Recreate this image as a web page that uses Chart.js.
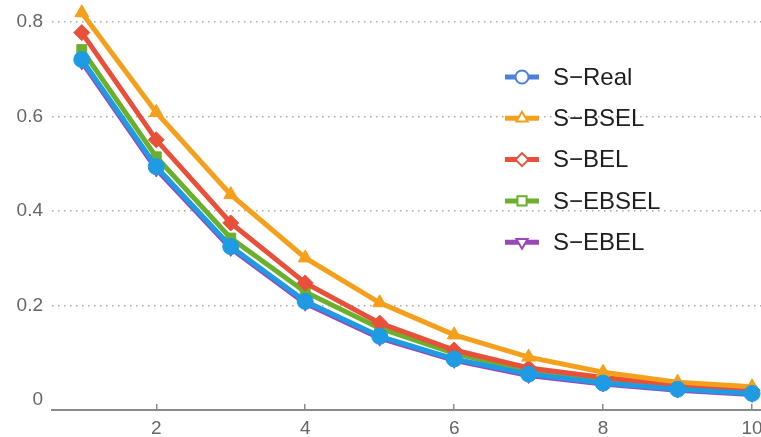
<!DOCTYPE html>
<html>
<head>
<meta charset="utf-8">
<script src="https://cdn.jsdelivr.net/npm/chart.js@4"></script>
<style>
  html, body { margin: 0; padding: 0; background: #fff; }
  #wrap { width: 761px; height: 437px; }
</style>
</head>
<body>
<div id="wrap"><canvas id="chart"></canvas></div>
<script>
const xValues = [1, 2, 3, 4, 5, 6, 7, 8, 9, 10];
const sReal = [0.721, 0.494, 0.325, 0.209, 0.135, 0.087, 0.055, 0.036, 0.023, 0.014];
const sBSEL = [0.820, 0.609, 0.435, 0.301, 0.206, 0.138, 0.091, 0.059, 0.038, 0.028];
const sBEL = [0.778, 0.551, 0.375, 0.248, 0.163, 0.106, 0.068, 0.048, 0.032, 0.021];
const sEBSEL = [0.742, 0.515, 0.343, 0.229, 0.152, 0.099, 0.062, 0.042, 0.029, 0.019];
const sEBEL = [0.716, 0.489, 0.321, 0.205, 0.131, 0.084, 0.052, 0.034, 0.021, 0.012];
const seriesNames = ['S\u2212Real', 'S\u2212BSEL', 'S\u2212BEL', 'S\u2212EBSEL', 'S\u2212EBEL'];
const xTicks = [2, 4, 6, 8, 10];
const yTicks = [0, 0.2, 0.4, 0.6, 0.8];

const lineColors = ['#1f9be3', '#f5a01c', '#e8503a', '#6bb02c', '#9a48b8'];
const legendColors = ['#4f7fdc', '#f5a01c', '#e8503a', '#6bb02c', '#9a48b8'];
const pointStyles = ['circle', 'triangle', 'rectRot', 'rect', 'triangle'];
const pointRotations = [0, 0, 0, 0, 180];

function toPoints(arr) {
  return arr.map((v, i) => ({ x: xValues[i], y: v }));
}

const allSeries = [sReal, sBSEL, sBEL, sEBSEL, sEBEL];

const datasets = allSeries.map((s, i) => ({
  label: seriesNames[i],
  data: toPoints(s),
  borderColor: lineColors[i],
  backgroundColor: lineColors[i],
  borderWidth: 5,
  pointStyle: pointStyles[i],
  rotation: pointRotations[i],
  pointRadius: pointStyles[i] === 'rect' ? 7 : 8,
  pointBorderWidth: 1,
  pointBackgroundColor: lineColors[i],
  pointBorderColor: lineColors[i],
  tension: 0,
  clip: false,
}));

// legend drawn over the plot, Mathematica style (line + open marker)
const floatLegend = {
  id: 'floatLegend',
  afterDraw(chart) {
    const ctx = chart.ctx;
    const x0 = 505, y0 = 77, step = 41.3;
    ctx.save();
    chart.data.datasets.forEach((ds, i) => {
      const y = y0 + i * step;
      const c = legendColors[i];
      ctx.strokeStyle = c;
      ctx.lineWidth = 5;
      ctx.beginPath();
      ctx.moveTo(x0, y);
      ctx.lineTo(x0 + 34, y);
      ctx.stroke();
      ctx.fillStyle = '#fff';
      ctx.strokeStyle = c;
      ctx.lineWidth = 2;
      Chart.helpers.drawPoint(ctx, {
        pointStyle: ds.pointStyle,
        rotation: ds.rotation,
        radius: 6.5,
        borderWidth: 2,
      }, x0 + 17, y);
      ctx.fillStyle = '#1e1e1e';
      ctx.font = '24px "Liberation Sans", Arial, sans-serif';
      ctx.textBaseline = 'middle';
      ctx.textAlign = 'left';
      ctx.fillText(ds.label, x0 + 48, y + 1);
    });
    ctx.restore();
  },
};

new Chart(document.getElementById('chart'), {
  type: 'line',
  data: { datasets },
  options: {
    responsive: true,
    maintainAspectRatio: false,
    animation: false,
    layout: { padding: 0, autoPadding: false },
    plugins: {
      legend: { display: false },
      tooltip: { enabled: false },
    },
    scales: {
      x: {
        type: 'linear',
        min: 0.6,
        max: 10.12,
        afterBuildTicks: (axis) => { axis.ticks = xTicks.map(v => ({ value: v })); },
        afterFit: (axis) => {
          axis.height = 27;
          axis.paddingLeft = 0;
          axis.paddingRight = 0;
        },
        border: { display: true, color: '#8a8a8a', width: 2 },
        grid: { drawOnChartArea: false, drawTicks: true, tickLength: -6, color: '#8a8a8a', lineWidth: 1.5 },
        ticks: {
          padding: 13,
          color: '#666',
          font: { family: '"Liberation Sans", Arial, sans-serif', size: 19 },
          maxRotation: 0,
        },
      },
      y: {
        min: -0.021,
        max: 0.847,
        afterBuildTicks: (axis) => { axis.ticks = yTicks.map(v => ({ value: v })); },
        afterFit: (axis) => {
          axis.width = 52;
          axis.paddingTop = 0;
          axis.paddingBottom = 0;
        },
        border: { display: false, dash: [1.5, 4.5] },
        grid: {
          drawTicks: false,
          color: (ctx) => (ctx.tick && ctx.tick.value === 0 ? 'rgba(0,0,0,0)' : '#a8a8a8'),
          lineWidth: 1.5,
        },
        ticks: {
          padding: 9,
          color: '#666',
          font: { family: '"Liberation Sans", Arial, sans-serif', size: 19 },
          callback: (v) => (v === 0 ? '0' : v.toFixed(1)),
        },
      },
    },
  },
  plugins: [floatLegend],
});
</script>
</body>
</html>
